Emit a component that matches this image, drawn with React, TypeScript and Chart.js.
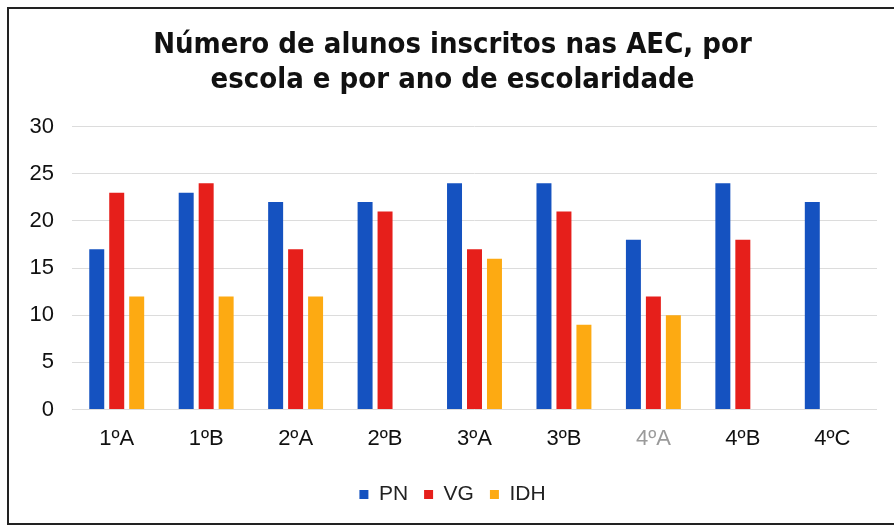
import React, { useEffect, useRef } from "react";
import { Chart, registerables } from "chart.js";

Chart.register(...registerables);

const categories = ["1ºA", "1ºB", "2ºA", "2ºB", "3ºA", "3ºB", "4ºA", "4ºB", "4ºC"];
const pnValues = [17, 23, 22, 22, 24, 24, 18, 24, 22];
const vgValues = [23, 24, 17, 21, 17, 21, 12, 18, 0];
const idhValues = [12, 12, 12, 0, 16, 9, 10, 0, 0];
const seriesNames = ["PN", "VG", "IDH"];
const titleLines = ["Número de alunos inscritos nas AEC, por", "escola e por ano de escolaridade"];
const yTicks = [0, 5, 10, 15, 20, 25, 30];

export default function App() {
  const canvasRef = useRef<HTMLCanvasElement | null>(null);

  useEffect(() => {
    document.body.style.margin = "0";
    const canvas = canvasRef.current;
    if (!canvas) return;
    const chart = new Chart(canvas, {
      type: "bar",
      data: {
        labels: categories,
        datasets: [
          { label: seriesNames[0], data: pnValues, backgroundColor: "#1552c0" },
          { label: seriesNames[1], data: vgValues, backgroundColor: "#e61f1b" },
          { label: seriesNames[2], data: idhValues, backgroundColor: "#fdaa12" },
        ],
      },
      options: {
        animation: false,
        responsive: false,
        maintainAspectRatio: false,
        layout: { padding: { left: 28, right: 17, top: 0, bottom: 10 } },
        datasets: {
          bar: { categoryPercentage: 0.67, barPercentage: 0.75 },
        },
        plugins: {
          title: {
            display: true,
            text: titleLines,
            color: "#111",
            font: { family: "'DejaVu Sans Condensed', 'DejaVu Sans'", size: 29, weight: "bold", lineHeight: 1.2 },
            padding: { top: 28, bottom: 29 },
          },
          legend: {
            display: true,
            position: "bottom",
            labels: {
              boxWidth: 9,
              boxHeight: 9,
              padding: 16,
              color: "#222",
              font: { family: "'Liberation Sans', Arial, sans-serif", size: 21 },
            },
          },
          tooltip: { enabled: false },
        },
        scales: {
          x: {
            grid: { display: false, drawTicks: false },
            border: { display: false },
            ticks: {
              padding: 16,
              color: (ctx: any) => (ctx.index === 6 ? "#9a9a9a" : "#111"),
              font: { family: "'Liberation Sans', Arial, sans-serif", size: 22 },
            },
          },
          y: {
            min: 0,
            max: 30,
            afterBuildTicks: (scale: any) => {
              scale.ticks = yTicks.map((v) => ({ value: v }));
            },
            afterFit: (scale: any) => {
              scale.width = 44;
            },
            grid: { color: "#dcdcdc", lineWidth: 1, drawTicks: false },
            border: { display: false },
            ticks: {
              padding: 18,
              color: "#111",
              font: { family: "'Liberation Sans', Arial, sans-serif", size: 22 },
            },
          },
        },
      },
    });
    return () => chart.destroy();
  }, []);

  return (
    <div style={{ position: "relative", width: 894, height: 525, background: "#fff", overflow: "hidden" }}>
      <canvas ref={canvasRef} width={894} height={525} style={{ position: "absolute", left: 0, top: 0 }} />
      <div
        style={{
          position: "absolute",
          left: 7,
          top: 7,
          width: 920,
          height: 514,
          borderLeft: "2px solid #222",
          borderTop: "2px solid #222",
          borderBottom: "2px solid #222",
          pointerEvents: "none",
        }}
      />
    </div>
  );
}
